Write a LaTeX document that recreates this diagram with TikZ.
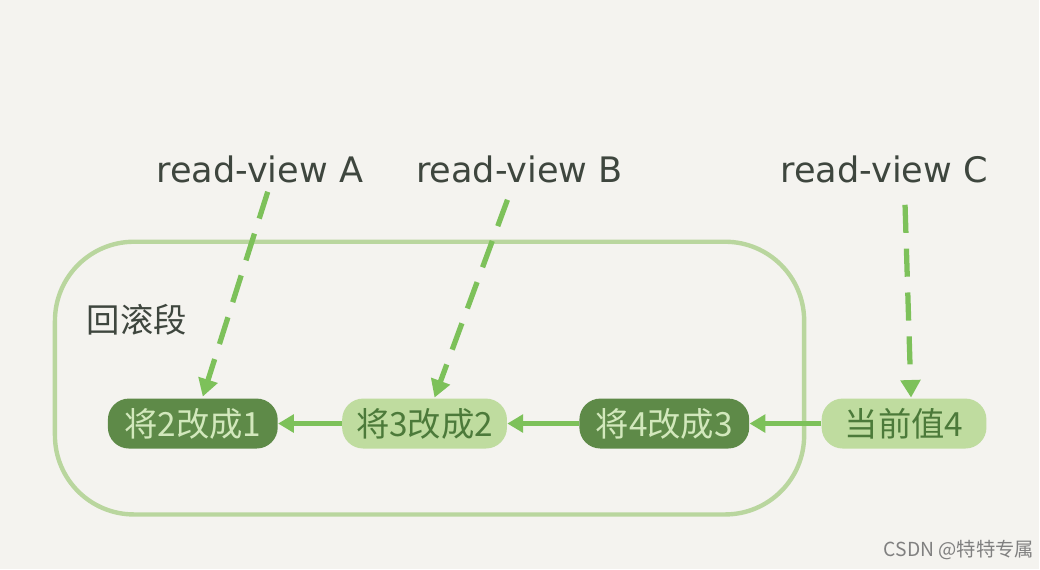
\documentclass[tikz,border=0pt]{standalone}
\usepackage{fontspec}
\setmainfont{DejaVu Sans}
\newfontfamily\cjk{Noto Sans CJK SC}
\usetikzlibrary{arrows.meta}
\definecolor{bg}{HTML}{F4F3EF}
\definecolor{frame}{HTML}{B9D69E}
\definecolor{darkg}{HTML}{5E8A48}
\definecolor{lightg}{HTML}{BFDC9F}
\definecolor{txtlight}{HTML}{D2E8BC}
\definecolor{txtdark}{HTML}{4C7A3A}
\definecolor{arr}{HTML}{7DC15A}
\definecolor{lab}{HTML}{3E463E}
\begin{document}
\begin{tikzpicture}[x=0.02cm,y=-0.02cm,
  pill/.style={rounded corners=12pt,minimum width=170*0.02cm,minimum height=50*0.02cm,inner sep=0pt,font=\cjk\fontsize{19}{19}\selectfont},
  darkpill/.style={pill,fill=darkg,text=txtlight},
  lightpill/.style={pill,fill=lightg,text=txtdark},
  solidarr/.style={draw=arr,line width=2.5pt,-{Triangle[length=9pt,width=10pt]}},
  dasharr/.style={draw=arr,line width=3pt,dash pattern=on 16pt off 9pt,-{Triangle[length=10pt,width=11pt]}},
  rv/.style={text=lab,font=\fontsize{20}{20}\selectfont}]
\fill[bg] (0,0) rectangle (1040,570);
\draw[frame,line width=2.5pt,rounded corners=45pt] (55,242) rectangle (805,515);
\node[text=lab,font=\cjk\fontsize{19}{19}\selectfont] (seg) at (137,320) {回滚段};
\node[darkpill] (n1) at (193,424) {将2改成1};
\node[lightpill,minimum width=165*0.02cm] (n2) at (425,424) {将3改成2};
\node[darkpill] (n3) at (665,424) {将4改成3};
\node[lightpill,minimum width=165*0.02cm] (n4) at (905,424) {当前值4};
\draw[solidarr] (n2) -- (n1);
\draw[solidarr] (n3) -- (n2);
\draw[solidarr] (n4) -- (n3);
\node[rv] (ra) at (260,170) {read-view A};
\node[rv] (rb) at (520,170) {read-view B};
\node[rv] (rc) at (885,170) {read-view C};
\coordinate (sa) at (268,192);
\coordinate (sb) at (508,200);
\coordinate (sc) at (906,205);
\coordinate (ea) at (203,397);
\coordinate (eb) at (435,398);
\coordinate (ec) at (912,398);
\draw[dasharr] (sa) -- (ea);
\draw[dasharr] (sb) -- (eb);
\draw[dasharr] (sc) -- (ec);
\node[text=gray,font=\cjk\fontsize{11}{11}\selectfont] (wm) at (960,551) {CSDN @特特专属};
\end{tikzpicture}
\end{document}
